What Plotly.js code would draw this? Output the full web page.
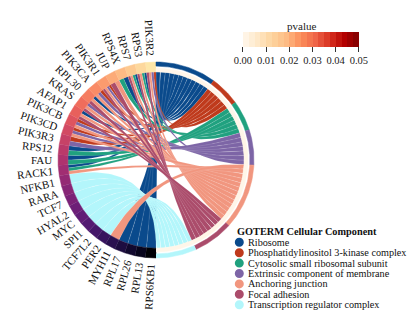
<!DOCTYPE html>
<html>
<head>
<meta charset="utf-8">
<script src="https://cdn.plot.ly/plotly-3.0.1.min.js"></script>
<style>
  html, body { margin: 0; padding: 0; background: #fff; }
  #chart { width: 415px; height: 332px; }
</style>
</head>
<body>
<div id="chart"></div>
<script>
// ---- data ----
const genes = ["PIK3R2", "RPS3", "RPS7", "RPS4X", "JUP", "PIK3R1", "PIK3CA", "RPL30", "KRAS",
  "AFAP1", "PIK3CB", "PIK3CD", "PIK3R3", "RPS12", "FAU", "RACK1", "NFKB1", "RARA", "TCF7",
  "HYAL2", "MYC", "SPI1", "TCF7L2", "PER2", "MYH11", "RPL17", "RPL26", "RPL13", "RPS6KB1"];

const geneColors = ["#fde6a8", "#fdd89d", "#fdc990", "#fdba84", "#fcaa78", "#fb9b6e", "#f98b66",
  "#f57c60", "#f06d5c", "#e8605c", "#de545f", "#d24a63", "#c64267", "#ba3a6a", "#ae336e",
  "#a12e72", "#942a74", "#872676", "#7a2277", "#6d1f77", "#601c76", "#531972", "#45176a",
  "#37145e", "#2a1150", "#1e0d40", "#12092e", "#08051c", "#000004"];

const terms = ["Ribosome", "Phosphatidylinositol 3-kinase complex", "Cytosolic small ribosomal subunit",
  "Extrinsic component of membrane", "Anchoring junction", "Focal adhesion",
  "Transcription regulator complex"];

const termColors = ["#0a4a8c", "#bf3a1c", "#20a17f", "#7d65a6", "#f1967f", "#ab4c6b", "#b3f6fb"];

const termPvalues = [0.0004, 0.0006, 0.0005, 0.0008, 0.0007, 0.0009, 0.0006];

// term indices each gene belongs to
const geneTerms = [
  [1, 3, 4, 5], [0, 2, 4, 5], [0, 2, 4, 5], [0, 2], [4, 5], [1, 3, 4, 5], [1, 3, 4],
  [0, 4, 5], [3, 4, 5], [0, 4, 5], [1, 3, 4], [1, 3, 4], [1, 3], [0, 2], [0, 2], [0, 2, 4],
  [6], [6], [6], [6], [6], [6], [6], [6], [4], [0], [0], [0], [0]];

// order in which the term ribbons are layered (first = bottom)
const drawOrder = [0, 6, 1, 2, 3, 4, 5];

const pvalueTicks = [0, 0.01, 0.02, 0.03, 0.04, 0.05];
const pvalueScale = ["#fff7ec", "#fee8c8", "#fdd49e", "#fdbb84", "#fc8d59", "#ef6548", "#d7301f", "#b30000", "#7f0000"];

// ---- geometry ----
const W = 415, H = 332, CX = 156, CY = 160, RPX = 98;
const R_IN = 0.9, R_OUT = 1.0;
const FONT = "Liberation Serif";

function toXY(r, thetaDeg) {
  const t = thetaDeg * Math.PI / 180;
  return [r * Math.cos(t), r * Math.sin(t)];
}

function arc(r, th1, th2, n) {
  const xs = [], ys = [];
  for (let i = 0; i <= n; i++) {
    const p = toXY(r, th1 + (th2 - th1) * i / n);
    xs.push(p[0]); ys.push(p[1]);
  }
  return [xs, ys];
}

function band(r1, r2, th1, th2) {
  const a = arc(r2, th1, th2, 30), b = arc(r1, th2, th1, 30);
  return [a[0].concat(b[0]), a[1].concat(b[1])];
}

function bezier(p0, p2, n) {
  const xs = [], ys = [];
  for (let i = 0; i <= n; i++) {
    const t = i / n;
    xs.push((1 - t) * (1 - t) * p0[0] + t * t * p2[0]);
    ys.push((1 - t) * (1 - t) * p0[1] + t * t * p2[1]);
  }
  return [xs, ys];
}

function lerpColor(scale, f) {
  const pos = Math.max(0, Math.min(1, f)) * (scale.length - 1);
  const i = Math.min(Math.floor(pos), scale.length - 2), u = pos - i;
  const a = scale[i], b = scale[i + 1];
  const c = [1, 3, 5].map((k) => Math.round(parseInt(a.substr(k, 2), 16) * (1 - u) + parseInt(b.substr(k, 2), 16) * u));
  return "rgb(" + c.join(",") + ")";
}

const nLinks = geneTerms.reduce((s, t) => s + t.length, 0);
const unit = 180 / nLinks;
const gw = 180 / genes.length;

// term arcs run clockwise from the top; each arc is filled starting with its lowest gene
const termCount = terms.map((t, k) => geneTerms.filter((g) => g.includes(k)).length);
const termStart = [];
let acc = 0;
termCount.forEach((c) => { termStart.push(acc); acc += c * unit; });
const slot = {};
terms.forEach((t, k) => {
  let j = 0;
  for (let i = genes.length - 1; i >= 0; i--) {
    if (geneTerms[i].includes(k)) { slot[i + "-" + k] = termStart[k] + j * unit; j++; }
  }
});

const traces = [];

// ribbons
drawOrder.forEach((k) => {
  genes.forEach((g, i) => {
    const list = geneTerms[i];
    const j = list.indexOf(k);
    if (j < 0) return;
    const sub = gw / list.length;
    const a1 = 90 + i * gw + j * sub, a2 = a1 + sub;
    const b = slot[i + "-" + k];
    const tLow = 90 - (b + unit), tHigh = 90 - b;
    const ga = arc(R_IN, a1, a2, 8);
    const c1 = bezier(toXY(R_IN, a2), toXY(R_IN, tLow), 50);
    const ta = arc(R_IN, tLow, tHigh, 8);
    const c2 = bezier(toXY(R_IN, tHigh), toXY(R_IN, a1), 50);
    traces.push({
      type: "scatter", mode: "lines", fill: "toself",
      x: ga[0].concat(c1[0], ta[0], c2[0]),
      y: ga[1].concat(c1[1], ta[1], c2[1]),
      fillcolor: termColors[k], line: { color: "rgba(255,255,255,0.4)", width: 0.3 },
      hoverinfo: "skip", showlegend: false,
    });
  });
});

// gene ring
genes.forEach((g, i) => {
  const p = band(R_IN, R_OUT, 90 + i * gw, 90 + (i + 1) * gw);
  traces.push({
    type: "scatter", mode: "lines", fill: "toself", x: p[0], y: p[1],
    fillcolor: geneColors[i], line: { color: geneColors[i], width: 0.5 },
    hoverinfo: "skip", showlegend: false,
  });
});

// term rings: outer colour band + inner p-value band
terms.forEach((t, k) => {
  const th1 = 90 - termStart[k], th2 = 90 - (termStart[k] + termCount[k] * unit);
  const o = band(0.958, R_OUT, th2, th1);
  traces.push({
    type: "scatter", mode: "lines", fill: "toself", x: o[0], y: o[1],
    fillcolor: termColors[k], line: { color: termColors[k], width: 0.5 },
    hoverinfo: "skip", showlegend: false,
  });
  const pc = lerpColor(pvalueScale, termPvalues[k] / 0.05);
  const p = band(R_IN, 0.938, th2, th1);
  traces.push({
    type: "scatter", mode: "lines", fill: "toself", x: p[0], y: p[1],
    fillcolor: pc, line: { color: pc, width: 0.5 },
    hoverinfo: "skip", showlegend: false,
  });
});

// stepped colour scale like the binned bar in the reference
const nBins = 20;
const steppedScale = [];
for (let b = 0; b < nBins; b++) {
  const c = lerpColor(pvalueScale, (b + 0.5) / nBins);
  steppedScale.push([b / nBins, c], [(b + 1) / nBins, c]);
}

traces.push({
  type: "scatter", mode: "markers", x: [50, 50], y: [50, 50],
  marker: {
    color: [0, 0.05], cmin: 0, cmax: 0.05, colorscale: steppedScale,
    showscale: true,
    colorbar: {
      orientation: "h", x: 0.725, xanchor: "center", y: 1 - 32 / H, yanchor: "top",
      len: 0.28, lenmode: "fraction", thickness: 15, thicknessmode: "pixels",
      tickvals: pvalueTicks, ticktext: pvalueTicks.map((v) => v.toFixed(2)),
      ticks: "outside", ticklen: 5, tickcolor: "#333", tickwidth: 1,
      tickfont: { family: FONT, size: 10.5, color: "#222" },
      outlinewidth: 0, xpad: 0, ypad: 0,
    },
  },
  hoverinfo: "skip", showlegend: false,
});

// gene labels, radial, ending just outside the ring
const ctx = document.createElement("canvas").getContext("2d");
ctx.font = "11px 'Liberation Serif'";
const annotations = genes.map((g, i) => {
  const alpha = (i + 0.5) * gw;
  const w = ctx.measureText(g).width;
  const p = toXY(1.06 + w / 2 / RPX, 90 + alpha);
  return {
    x: p[0], y: p[1], xref: "x", yref: "y", text: g, showarrow: false,
    textangle: 90 - alpha, xanchor: "center", yanchor: "middle",
    font: { family: FONT, size: 11, color: "#111" },
  };
});

const px = (v) => (v - CX) / RPX;
const py = (v) => (CY - v) / RPX;

// colour bar title
annotations.push({
  x: px(301), y: py(25.5), xref: "x", yref: "y", text: "pvalue", showarrow: false,
  xanchor: "center", yanchor: "middle", font: { family: FONT, size: 11, color: "#222" },
});

// legend (drawn by hand to keep its tight spacing)
annotations.push({
  x: px(235), y: py(231.7), xref: "x", yref: "y", text: "<b>GOTERM Cellular Component</b>",
  showarrow: false, xanchor: "left", yanchor: "middle", font: { family: FONT, size: 10.3, color: "#111" },
});
const shapes = [];
terms.forEach((t, k) => {
  const yc = 242.3 + k * 10.4;
  shapes.push({
    type: "circle", xref: "x", yref: "y",
    x0: px(239.3 - 4.5), x1: px(239.3 + 4.5), y0: py(yc + 4.5), y1: py(yc - 4.5),
    fillcolor: termColors[k], line: { width: 0 },
  });
  annotations.push({
    x: px(245.5), y: py(yc), xref: "x", yref: "y", text: t, showarrow: false,
    xanchor: "left", yanchor: "middle", font: { family: FONT, size: 10.2, color: "#111" },
  });
});

const layout = {
  width: W, height: H,
  margin: { l: 0, r: 0, t: 0, b: 0, pad: 0, autoexpand: false },
  paper_bgcolor: "#fff", plot_bgcolor: "#fff",
  xaxis: { range: [px(0), px(W)], visible: false, fixedrange: true },
  yaxis: { range: [py(H), py(0)], visible: false, fixedrange: true },
  showlegend: false,
  annotations: annotations,
  shapes: shapes,
};

Plotly.newPlot("chart", traces, layout, { displayModeBar: false, staticPlot: true });
</script>
</body>
</html>
